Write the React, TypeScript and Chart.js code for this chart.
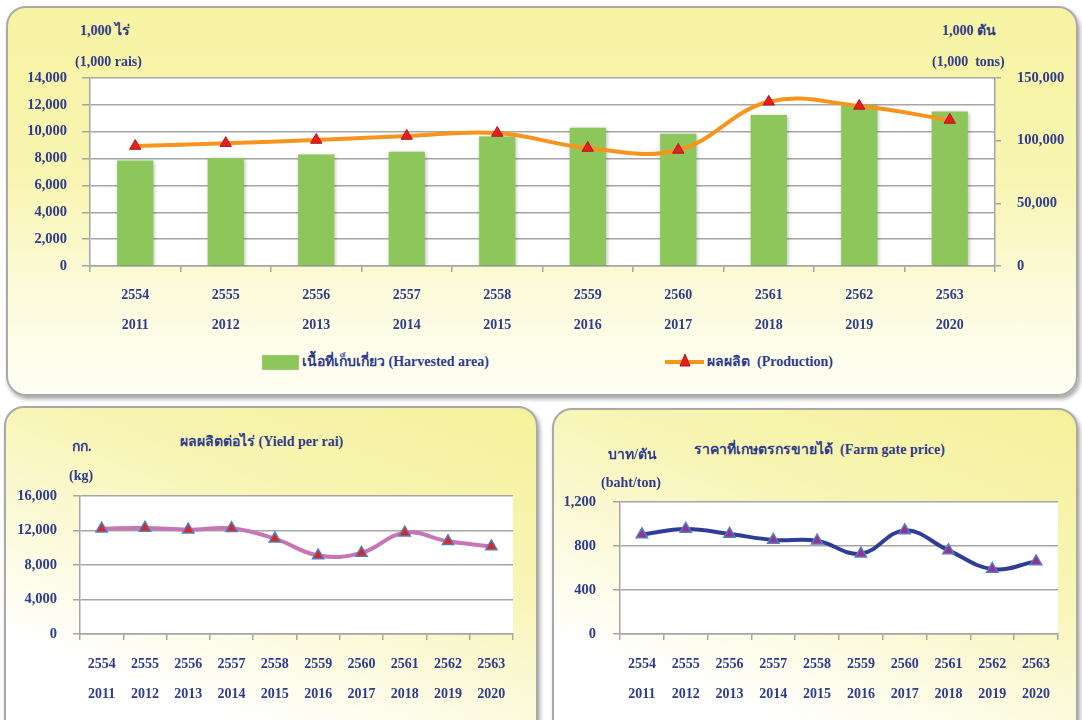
import React, { useEffect, useRef } from "react";
import { Chart, registerables } from "chart.js";
Chart.register(...registerables);

const yearsBE = ["2554", "2555", "2556", "2557", "2558", "2559", "2560", "2561", "2562", "2563"];
const yearsAD = ["2011", "2012", "2013", "2014", "2015", "2016", "2017", "2018", "2019", "2020"];
const harvestedArea = [7850, 8050, 8300, 8500, 9650, 10300, 9850, 11250, 12000, 11500];
const production = [95700, 98000, 100500, 103700, 106100, 94100, 92600, 131000, 127700, 116500];
const yieldPerRai = [12200, 12300, 12100, 12250, 11050, 9100, 9400, 11750, 10750, 10150];
const farmGatePrice = [905, 955, 910, 855, 848, 730, 942, 760, 590, 660];

const NAVY = "#2F3B8C";
const GRID = "#A6A6A6";
const FONT_FAMILY = "'Liberation Serif', 'Times New Roman', serif";
const tickFont = { family: FONT_FAMILY, size: 14.5, weight: "bold" as const, lineHeight: "16px" };
const xTickFont = { family: FONT_FAMILY, size: 14, weight: "bold" as const, lineHeight: "30px" };

const fmt = (v: any) => Number(v).toLocaleString("en-US");

const plotBg = {
  id: "plotBg",
  beforeDraw(chart: any) {
    const { ctx, chartArea: a } = chart;
    ctx.save();
    ctx.fillStyle = "#ffffff";
    ctx.fillRect(a.left, a.top, a.right - a.left, a.bottom - a.top);
    ctx.restore();
  },
};

const barShadow = {
  id: "barShadow",
  beforeDatasetDraw(chart: any, args: any) {
    const ctx = chart.ctx;
    ctx.save();
    if (args.meta.type === "bar") {
      ctx.shadowColor = "rgba(0,0,0,0.28)";
      ctx.shadowBlur = 4;
      ctx.shadowOffsetX = 1;
      ctx.shadowOffsetY = 1;
    }
  },
  afterDatasetDraw(chart: any) {
    chart.ctx.restore();
  },
};

const xLabels = yearsBE.map((y, i) => [y, yearsAD[i]]);

function xScale(padding: number, height: number) {
  return {
    offset: true,
    afterFit: (s: any) => { s.height = height; },
    grid: { offset: true, drawOnChartArea: false, drawTicks: true, tickLength: 6, color: GRID, lineWidth: 1.5 },
    border: { color: GRID, width: 1.5 },
    ticks: { color: NAVY, font: xTickFont, padding, maxRotation: 0, autoSkip: false },
  };
}

function useChart(build: (c: HTMLCanvasElement) => Chart) {
  const ref = useRef<HTMLCanvasElement | null>(null);
  useEffect(() => {
    if (!ref.current) return;
    const ch = build(ref.current);
    return () => ch.destroy();
  }, []);
  return ref;
}

function TopChart() {
  const ref = useChart((c) =>
    new Chart(c, {
      type: "bar",
      data: {
        labels: xLabels,
        datasets: [
          {
            type: "line",
            label: "ผลผลิต (Production)",
            data: production,
            yAxisID: "y1",
            borderColor: "#F7941D",
            borderWidth: 4,
            tension: 0.4,
            pointStyle: "triangle",
            pointRadius: 6.5,
            pointBackgroundColor: "#E31F1F",
            pointBorderColor: "#B71515",
            pointBorderWidth: 1,
            order: 0,
          } as any,
          {
            type: "bar",
            label: "เนื้อที่เก็บเกี่ยว (Harvested area)",
            data: harvestedArea,
            yAxisID: "y",
            backgroundColor: "#8DC65A",
            barPercentage: 0.4,
            categoryPercentage: 1,
            order: 1,
          } as any,
        ],
      },
      options: {
        animation: false,
        responsive: false,
        layout: { padding: 0 },
        plugins: { legend: { display: false }, tooltip: { enabled: false } },
        scales: {
          x: xScale(8, 80) as any,
          y: {
            min: 0, max: 14000,
            afterFit: (s: any) => { s.width = 84; },
            ticks: { stepSize: 2000, color: NAVY, font: tickFont, padding: 15, callback: fmt },
            grid: { color: GRID, lineWidth: 1.5, tickLength: 8 },
            border: { color: GRID, width: 1.5 },
          } as any,
          y1: {
            position: "right",
            min: 0, max: 150000,
            afterFit: (s: any) => { s.width = 83; },
            ticks: { stepSize: 50000, color: NAVY, font: tickFont, padding: 16, callback: fmt },
            grid: { drawOnChartArea: false, color: GRID, lineWidth: 1.5, tickLength: 6 },
            border: { color: GRID, width: 1.5 },
          } as any,
        },
      },
      plugins: [plotBg, barShadow],
    })
  );
  return <canvas ref={ref} width={1072} height={292} style={{ position: "absolute", left: 6, top: 54, width: 1072, height: 292 }} />;
}

function LineChart(props: {
  left: number; top: number; width: number; height: number; yWidth: number; padRight: number; labelPad: number;
  data: number[]; max: number; step: number; color: string; pointColor: string; name: string;
}) {
  const p = props;
  const ref = useChart((c) =>
    new Chart(c, {
      type: "line",
      data: {
        labels: xLabels,
        datasets: [
          {
            label: p.name,
            data: p.data,
            borderColor: p.color,
            borderWidth: 4,
            tension: 0.4,
            pointStyle: "triangle",
            pointRadius: 6.5,
            pointBackgroundColor: p.pointColor,
            pointBorderColor: "#4F7FC0",
            pointBorderWidth: 1.5,
          } as any,
        ],
      },
      options: {
        animation: false,
        responsive: false,
        layout: { padding: { top: 0, left: 0, right: p.padRight, bottom: 0 } },
        plugins: { legend: { display: false }, tooltip: { enabled: false } },
        scales: {
          x: xScale(9, 81) as any,
          y: {
            min: 0, max: p.max,
            afterFit: (s: any) => { s.width = p.yWidth; },
            ticks: { stepSize: p.step, color: NAVY, font: tickFont, padding: p.labelPad, callback: fmt },
            grid: { color: GRID, lineWidth: 1.5, tickLength: 7 },
            border: { color: GRID, width: 1.5 },
          } as any,
        },
      },
      plugins: [plotBg],
    })
  );
  return <canvas ref={ref} width={p.width} height={p.height} style={{ position: "absolute", left: p.left, top: p.top, width: p.width, height: p.height }} />;
}

const textStyle: React.CSSProperties = {
  position: "absolute",
  fontFamily: FONT_FAMILY,
  fontWeight: "bold",
  fontSize: 14,
  color: NAVY,
  whiteSpace: "pre",
  lineHeight: "16px",
};

function T(props: { x: number; y: number; children: any; size?: number }) {
  return (
    <div style={{ ...textStyle, left: props.x, top: props.y - 8, fontSize: props.size || 14 }}>{props.children}</div>
  );
}

const panelBase: React.CSSProperties = {
  position: "absolute",
  boxSizing: "border-box",
  border: "2px solid #A9A9A9",
  borderRadius: 20,
  boxShadow: "2px 3px 4px rgba(0,0,0,0.35)",
};

export default function App() {
  return (
    <div style={{ position: "absolute", left: 0, top: 0, width: 1082, height: 720, overflow: "hidden", background: "#ffffff" }}>
      <div style={{ ...panelBase, left: 6, top: 6, width: 1072, height: 390, background: "linear-gradient(to bottom, #F7F3A3 0%, #F8F5B2 45%, #FCFBDD 75%, #FEFEF4 100%)" }} />
      <div style={{ ...panelBase, left: 4, top: 406, width: 534, height: 340, background: "linear-gradient(200deg, #F5F19A 0%, #F8F5B6 35%, #FFFFFF 80%)" }} />
      <div style={{ ...panelBase, left: 552, top: 408, width: 526, height: 340, background: "linear-gradient(200deg, #F5F19A 0%, #F8F5B6 35%, #FFFFFF 80%)" }} />

      <TopChart />
      <LineChart left={4} top={472} width={530} height={243} yWidth={76} padRight={21} labelPad={16}
        data={yieldPerRai} max={16000} step={4000} color="#C675B7" pointColor="#E3231F" name="ผลผลิตต่อไร่ (Yield per rai)" />
      <LineChart left={552} top={477} width={528} height={238} yWidth={68} padRight={22} labelPad={17}
        data={farmGatePrice} max={1200} step={400} color="#2E3D95" pointColor="#9B2F8E" name="ราคาที่เกษตรกรขายได้ (Farm gate price)" />

      <T x={80} y={31}>1,000 ไร่</T>
      <T x={75} y={62}>(1,000 rais)</T>
      <T x={942} y={31}>1,000 ตัน</T>
      <T x={932} y={62}>(1,000  tons)</T>

      <div style={{ position: "absolute", left: 262, top: 355, width: 37, height: 15, background: "#8DC65A", border: "1px solid #9CCB73", boxSizing: "border-box" }} />
      <T x={302} y={362}>เนื้อที่เก็บเกี่ยว (Harvested area)</T>
      <svg style={{ position: "absolute", left: 663, top: 352 }} width={44} height={20}>
        <line x1={2} y1={10} x2={41} y2={10} stroke="#F7941D" strokeWidth={4} />
        <polygon points="22,2 27,14 17,14" fill="#E31F1F" stroke="#B71515" strokeWidth={1} />
      </svg>
      <T x={707} y={362}>ผลผลิต  (Production)</T>

      <T x={180} y={442}>ผลผลิตต่อไร่ (Yield per rai)</T>
      <T x={72} y={447}>กก.</T>
      <T x={69} y={476}>(kg)</T>

      <T x={694} y={450}>ราคาที่เกษตรกรขายได้  (Farm gate price)</T>
      <T x={608} y={455}>บาท/ตัน</T>
      <T x={601} y={483}>(baht/ton)</T>
    </div>
  );
}
